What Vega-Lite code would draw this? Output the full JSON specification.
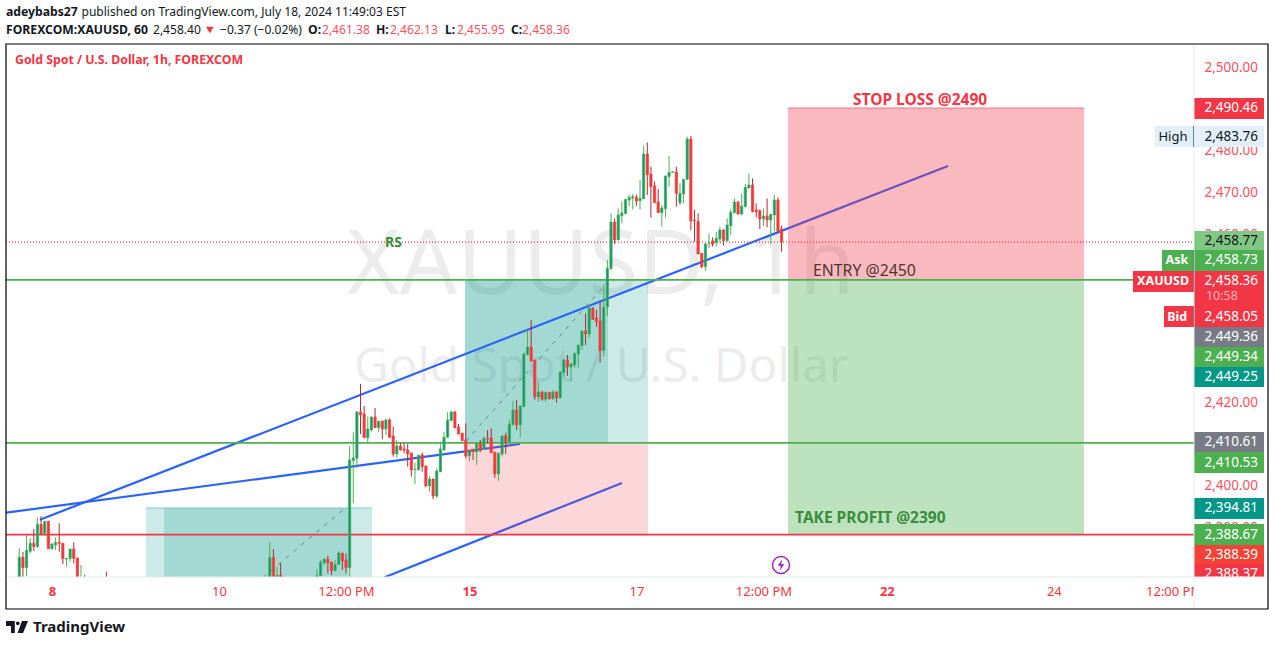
{"$schema":"https://vega.github.io/schema/vega-lite/v6.json","width":1188,"height":533,"autosize":{"type":"none"},"padding":{"left":6,"top":44,"right":81,"bottom":69},"background":"#ffffff","config":{"view":{"stroke":null},"font":"Noto Sans"},
"encoding":{"x":{"field":"x","type":"quantitative","scale":{"domain":[-3.664,323.61],"padding":0},"axis":{"orient":"bottom","values":[9,55,90,124,170,205,239,285,318],"labelExpr":"datum.value==9?'8':datum.value==55?'10':datum.value==90||datum.value==205||datum.value==318?'12:00 PM':datum.value==124?'15':datum.value==170?'17':datum.value==239?'22':'24'","grid":false,"ticks":false,"domain":false,"title":null,"labelColor":"#f23645","labelFont":"Noto Sans","labelFontSize":13,"labelPadding":8,"labelOverlap":false,"labelBound":false,"labelFlush":false,"labelFontWeight":{"condition":{"test":"datum.value==9||datum.value==124||datum.value==239","value":"bold"},"value":"normal"}}},"y":{"field":"y","type":"quantitative","scale":{"domain":[2378.28,2505.49]},"axis":{"orient":"right","values":[2500,2480,2470,2460,2420,2400,2390],"format":",.2f","grid":false,"ticks":false,"domain":false,"title":null,"labelColor":"#f7525f","labelFont":"Noto Sans","labelFontSize":13.5,"labelPadding":10,"labelOverlap":false,"labelBound":false}}},
"layer":[
{"data":{"values":[{"x":90.27,"y":2452.27,"t":"XAUUSD, 1h"}]},"mark":{"type":"text","align":"left","baseline":"middle","fontSize":90,"font":"Noto Sans","color":"#000000","opacity":0.07,"clip":true},"encoding":{"text":{"field":"t","type":"nominal"}}},
{"data":{"values":[{"x":92.2,"y":2428.16,"t":"Gold Spot / U.S. Dollar"}]},"mark":{"type":"text","align":"left","baseline":"middle","fontSize":47.7,"font":"Noto Sans","color":"#000000","opacity":0.07,"clip":true},"encoding":{"text":{"field":"t","type":"nominal"}}},
{"data":{"values":[{"x":34.9,"x2":97.17,"y":2394.75,"y2":2370},{"x":122.78,"x2":173.2,"y":2449.2,"y2":2410.3},{"x":39.86,"x2":90.55,"y":2394.75,"y2":2370},{"x":122.78,"x2":162.18,"y":2449.2,"y2":2410.3}]},"mark":{"type":"rect","fill":"#009688","opacity":0.2,"clip":true},"encoding":{"x2":{"field":"x2"},"y2":{"field":"y2"}}},
{"data":{"values":[{"x":34.9,"x2":97.17,"y":2394.75}]},"mark":{"type":"rule","stroke":"#80cbc4","strokeWidth":1,"clip":true},"encoding":{"x2":{"field":"x2"}}},
{"data":{"values":[{"x":5.7,"y":2391.96,"x2":255.84,"y2":2476.37},{"x":-3.66,"y":2393.63,"x2":137.93,"y2":2410.03},{"x":100.47,"y":2378.16,"x2":166.03,"y2":2400.72}]},"mark":{"type":"rule","stroke":"#2962ff","strokeWidth":2.2,"clip":true},"encoding":{"x2":{"field":"x2"},"y2":{"field":"y2"}}},
{"data":{"values":[{"x":122.78,"x2":173.2,"y":2410.3,"y2":2388.39}]},"mark":{"type":"rect","fill":"#f23645","opacity":0.2,"clip":true},"encoding":{"x2":{"field":"x2"},"y2":{"field":"y2"}}},
{"data":{"values":[{"x":211.76,"x2":293.31,"y":2490.22,"y2":2449.2}]},"mark":{"type":"rect","fill":"#f23645","opacity":0.35,"clip":true},"encoding":{"x2":{"field":"x2"},"y2":{"field":"y2"}}},
{"data":{"values":[{"x":211.76,"x2":293.31,"y":2490.22}]},"mark":{"type":"rule","stroke":"#f23645","strokeOpacity":0.6,"strokeWidth":1,"clip":true},"encoding":{"x2":{"field":"x2"}}},
{"data":{"values":[{"x":211.76,"x2":293.31,"y":2449.2,"y2":2388.39}]},"mark":{"type":"rect","fill":"#4caf50","opacity":0.37,"clip":true},"encoding":{"x2":{"field":"x2"},"y2":{"field":"y2"}}},
{"data":{"values":[{"x":-3.664,"x2":323.61,"y":2458.2}]},"mark":{"type":"rule","stroke":"#f23645","strokeWidth":1.3,"strokeDash":[1,2]},"encoding":{"x2":{"field":"x2"}}},
{"data":{"values":[{"x":-3.664,"x2":323.61,"y":2449.2},{"x":-3.664,"x2":323.61,"y":2410.3}]},"mark":{"type":"rule","stroke":"#4caf50","strokeWidth":1.6},"encoding":{"x2":{"field":"x2"}}},
{"data":{"values":[{"x":-3.664,"x2":323.61,"y":2388.39}]},"mark":{"type":"rule","stroke":"#f23645","strokeWidth":1.6},"encoding":{"x2":{"field":"x2"}}},
{"data":{"name":"bars","values":[
{"x":0,"o":2377,"h":2385.13,"l":2376,"c":2382.98},{"x":1,"o":2382.98,"h":2384.25,"l":2377,"c":2380.51},{"x":2,"o":2380.51,"h":2388.31,"l":2378.52,"c":2384.65},{"x":3,"o":2384.41,"h":2387.51,"l":2383.93,"c":2386.32},{"x":4,"o":2386.32,"h":2389.74,"l":2384.49,"c":2385.52},{"x":5,"o":2385.52,"h":2392.53,"l":2385.29,"c":2390.85},{"x":6,"o":2390.85,"h":2392.84,"l":2388.31,"c":2388.47},{"x":7,"o":2388.71,"h":2391.57,"l":2388.15,"c":2391.57},{"x":8,"o":2391.57,"h":2391.57,"l":2385.05,"c":2385.05},{"x":9,"o":2385.05,"h":2386.32,"l":2384.73,"c":2386.16},{"x":10,"o":2385.92,"h":2387.75,"l":2384.73,"c":2386.56},{"x":11,"o":2386.56,"h":2391.09,"l":2384.33,"c":2386.32},{"x":12,"o":2386.32,"h":2386.32,"l":2381.39,"c":2382.66},{"x":13,"o":2382.58,"h":2382.74,"l":2380.75,"c":2382.74},{"x":14,"o":2382.74,"h":2384.97,"l":2381.95,"c":2384.97},{"x":15,"o":2384.97,"h":2386.56,"l":2381.55,"c":2382.74},{"x":16,"o":2382.82,"h":2382.82,"l":2376,"c":2377},{"x":17,"o":2377,"h":2381.15,"l":2376,"c":2377.5},{"x":18,"o":2377,"h":2378.76,"l":2375,"c":2376},{"x":24,"o":2377,"h":2379.56,"l":2375,"c":2376},
{"x":68,"o":2377,"h":2378.36,"l":2376,"c":2377.5},{"x":69,"o":2377,"h":2386.56,"l":2376,"c":2382.98},{"x":70,"o":2382.98,"h":2384.97,"l":2376,"c":2377},{"x":71,"o":2377,"h":2380.75,"l":2376,"c":2378.68},{"x":72,"o":2378.68,"h":2381.55,"l":2376,"c":2377},{"x":73,"o":2377.5,"h":2378.36,"l":2376,"c":2376.5},
{"x":82,"o":2377,"h":2380.12,"l":2376,"c":2378.6},{"x":83,"o":2378.6,"h":2382.34,"l":2378.36,"c":2381.79},{"x":84,"o":2381.63,"h":2382.9,"l":2381.15,"c":2382.5},{"x":85,"o":2382.5,"h":2383.3,"l":2379.16,"c":2381.71},{"x":86,"o":2381.87,"h":2381.87,"l":2378.76,"c":2379.8},{"x":87,"o":2379.8,"h":2382.34,"l":2379.56,"c":2381.31},{"x":88,"o":2381.31,"h":2384.49,"l":2381.31,"c":2384.01},{"x":89,"o":2384.01,"h":2384.01,"l":2379.96,"c":2382.1},{"x":90,"o":2382.34,"h":2383.93,"l":2379.16,"c":2380.51},
{"x":91,"o":2380.51,"h":2409.55,"l":2378.36,"c":2406.21},{"x":92,"o":2406.05,"h":2412.82,"l":2395.87,"c":2406.69},{"x":93,"o":2406.61,"h":2417.83,"l":2404.22,"c":2417.67},{"x":94,"o":2417.67,"h":2424.35,"l":2412.42,"c":2416.95},{"x":95,"o":2417.19,"h":2419.1,"l":2411.54,"c":2411.54},{"x":96,"o":2411.54,"h":2416.55,"l":2410.43,"c":2413.61},{"x":97,"o":2413.37,"h":2416.55,"l":2412.97,"c":2416.47},{"x":98,"o":2416.47,"h":2418.62,"l":2413.93,"c":2413.93},{"x":99,"o":2413.93,"h":2415.6,"l":2412.97,"c":2415.44},{"x":100,"o":2415.52,"h":2415.52,"l":2411.22,"c":2413.61},{"x":101,"o":2413.61,"h":2416.08,"l":2412.18,"c":2415.76},{"x":102,"o":2415.76,"h":2416.16,"l":2411.62,"c":2411.62},{"x":103,"o":2411.94,"h":2414.17,"l":2407.01,"c":2407.64},{"x":104,"o":2407.64,"h":2410.98,"l":2406.77,"c":2409.55},{"x":105,"o":2409.55,"h":2410.19,"l":2408.44,"c":2408.6},{"x":106,"o":2408.84,"h":2410.19,"l":2407.8,"c":2408.6},{"x":107,"o":2408.6,"h":2410.03,"l":2404.62,"c":2407.64},{"x":108,"o":2407.88,"h":2407.88,"l":2402.24,"c":2403.83},{"x":109,"o":2403.91,"h":2405.58,"l":2400.41,"c":2403.99},{"x":110,"o":2403.83,"h":2407.33,"l":2403.83,"c":2407.33},{"x":111,"o":2407.41,"h":2407.96,"l":2403.43,"c":2404.62},{"x":112,"o":2404.78,"h":2404.78,"l":2399.69,"c":2400.01},{"x":113,"o":2400.01,"h":2402.39,"l":2398.66,"c":2401.68},{"x":114,"o":2401.68,"h":2401.68,"l":2396.83,"c":2397.62},{"x":115,"o":2397.62,"h":2404.22,"l":2397.07,"c":2403.59},{"x":116,"o":2403.43,"h":2410.59,"l":2403.27,"c":2408.84},{"x":117,"o":2408.6,"h":2412.97,"l":2408.44,"c":2411.62},{"x":118,"o":2411.62,"h":2417.59,"l":2411.46,"c":2415.76},{"x":119,"o":2415.6,"h":2417.99,"l":2415.44,"c":2417.67},{"x":120,"o":2417.67,"h":2417.83,"l":2413.85,"c":2413.85},{"x":121,"o":2414.09,"h":2414.8,"l":2412.42,"c":2412.42},{"x":122,"o":2412.58,"h":2412.74,"l":2410.67,"c":2410.83},{"x":123,"o":2410.98,"h":2414.96,"l":2406.61,"c":2407.17},{"x":124,"o":2407.17,"h":2408.6,"l":2405.89,"c":2408.52},{"x":125,"o":2408.76,"h":2408.76,"l":2406.21,"c":2408.28},{"x":126,"o":2408.12,"h":2410.19,"l":2405.02,"c":2410.11},{"x":127,"o":2410.19,"h":2410.98,"l":2408.12,"c":2408.6},{"x":128,"o":2408.76,"h":2411.94,"l":2408.6,"c":2411.38},{"x":129,"o":2411.46,"h":2413.37,"l":2410.19,"c":2411.22},{"x":130,"o":2411.46,"h":2413.77,"l":2407.96,"c":2407.96},{"x":131,"o":2408.04,"h":2408.04,"l":2401.92,"c":2402.87},{"x":132,"o":2402.87,"h":2407.88,"l":2401.2,"c":2407.88},{"x":133,"o":2407.64,"h":2412.1,"l":2407.01,"c":2411.94},{"x":134,"o":2411.94,"h":2412.74,"l":2407.64,"c":2410.51},{"x":135,"o":2410.51,"h":2415.92,"l":2410.51,"c":2414.8},{"x":136,"o":2414.64,"h":2420.29,"l":2414.49,"c":2418.15},{"x":137,"o":2418.15,"h":2420.53,"l":2413.37,"c":2414.57},{"x":138,"o":2414.64,"h":2419.26,"l":2411.54,"c":2419.1},{"x":139,"o":2418.94,"h":2431.83,"l":2418.78,"c":2431.51},{"x":140,"o":2431.35,"h":2437.24,"l":2431.19,"c":2433.18},{"x":141,"o":2433.18,"h":2439.62,"l":2429.68,"c":2429.84},{"x":142,"o":2430.08,"h":2430.08,"l":2420.53,"c":2421.25},{"x":143,"o":2421.25,"h":2424.83,"l":2420.05,"c":2422.44},{"x":144,"o":2422.44,"h":2422.6,"l":2420.37,"c":2420.69},{"x":145,"o":2420.69,"h":2422.52,"l":2420.13,"c":2422.36},{"x":146,"o":2422.36,"h":2422.36,"l":2420.77,"c":2420.77},{"x":147,"o":2420.77,"h":2422.92,"l":2420.69,"c":2422.44},{"x":148,"o":2422.44,"h":2422.6,"l":2419.9,"c":2421.01},{"x":149,"o":2421.01,"h":2427.37,"l":2421.01,"c":2427.21},{"x":150,"o":2427.06,"h":2430.24,"l":2426.1,"c":2430.08},{"x":151,"o":2430.08,"h":2431.27,"l":2426.26,"c":2428.41},{"x":152,"o":2428.41,"h":2429.28,"l":2425.07,"c":2429.12},{"x":153,"o":2428.88,"h":2431.83,"l":2428.25,"c":2431.67},{"x":154,"o":2431.51,"h":2433.66,"l":2428.25,"c":2433.66},{"x":155,"o":2433.5,"h":2437,"l":2432.46,"c":2437},{"x":156,"o":2437,"h":2441.21,"l":2433.66,"c":2436.28},{"x":157,"o":2436.28,"h":2443.2,"l":2435.25,"c":2442.49},{"x":158,"o":2442.49,"h":2442.65,"l":2439.62,"c":2439.78},{"x":159,"o":2440.1,"h":2442.01,"l":2438.03,"c":2439.23},{"x":160,"o":2439.39,"h":2444,"l":2429.44,"c":2432.31},{"x":161,"o":2432.31,"h":2447.98,"l":2430.87,"c":2442.65},
{"x":162,"o":2442.72,"h":2453.94,"l":2440.58,"c":2451.95},{"x":163,"o":2451.95,"h":2465.08,"l":2451.55,"c":2463.01},{"x":164,"o":2463.01,"h":2463.88,"l":2457.76,"c":2458.71},{"x":165,"o":2458.71,"h":2466.27,"l":2458.71,"c":2464.68},{"x":166,"o":2464.52,"h":2467.86,"l":2462.69,"c":2465.16},{"x":167,"o":2465,"h":2468.42,"l":2464.92,"c":2468.42},{"x":168,"o":2468.26,"h":2469.53,"l":2466.83,"c":2468.89},{"x":169,"o":2468.74,"h":2469.69,"l":2466.03,"c":2469.05},{"x":170,"o":2468.89,"h":2469.53,"l":2466.83,"c":2468.02},{"x":171,"o":2468.1,"h":2473.03,"l":2466.03,"c":2468.66},{"x":172,"o":2468.58,"h":2481.15,"l":2468.42,"c":2479.24},{"x":173,"o":2479.24,"h":2482.02,"l":2469.45,"c":2474.3},{"x":174,"o":2474.46,"h":2476.21,"l":2464.04,"c":2471.44},{"x":175,"o":2471.6,"h":2472.63,"l":2467.62,"c":2467.62},{"x":176,"o":2467.78,"h":2470.88,"l":2465.24,"c":2465.24},{"x":177,"o":2465.24,"h":2467.06,"l":2461.89,"c":2466.35},{"x":178,"o":2466.19,"h":2474.06,"l":2464.12,"c":2473.99},{"x":179,"o":2473.83,"h":2478.76,"l":2471.44,"c":2474.86},{"x":180,"o":2474.86,"h":2475.02,"l":2474.86,"c":2475.02},{"x":181,"o":2474.94,"h":2476.21,"l":2466.67,"c":2469.85},{"x":182,"o":2467.62,"h":2472.24,"l":2467.06,"c":2469.85},{"x":183,"o":2469.69,"h":2473.19,"l":2467.46,"c":2473.19},{"x":184,"o":2473.19,"h":2483.37,"l":2473.03,"c":2482.82},{"x":185,"o":2482.82,"h":2483.53,"l":2461.1,"c":2463.25},{"x":186,"o":2463.48,"h":2465.87,"l":2458.31,"c":2463.33},{"x":187,"o":2463.17,"h":2465.08,"l":2455.37,"c":2455.37},{"x":188,"o":2455.53,"h":2455.53,"l":2451.95,"c":2452.35},{"x":189,"o":2452.35,"h":2457.92,"l":2451.39,"c":2457.76},{"x":190,"o":2457.92,"h":2460.3,"l":2456.72,"c":2458},{"x":191,"o":2458.47,"h":2459.35,"l":2457.12,"c":2457.68},{"x":192,"o":2458.15,"h":2460.7,"l":2457.12,"c":2459.11},{"x":193,"o":2458.95,"h":2461.89,"l":2458.15,"c":2461.1},{"x":194,"o":2461.1,"h":2461.26,"l":2457.44,"c":2458.55},{"x":195,"o":2458.55,"h":2463.88,"l":2458.31,"c":2462.29},{"x":196,"o":2462.13,"h":2466.03,"l":2459.9,"c":2465.31},{"x":197,"o":2465.24,"h":2468.66,"l":2465.08,"c":2467.78},{"x":198,"o":2467.78,"h":2468.02,"l":2464.76,"c":2464.92},{"x":199,"o":2464.92,"h":2469.69,"l":2464.6,"c":2466.83},{"x":200,"o":2466.67,"h":2472.08,"l":2466.51,"c":2471.28},{"x":201,"o":2471.12,"h":2474.62,"l":2471.04,"c":2471.84},{"x":202,"o":2471.84,"h":2473.43,"l":2465.31,"c":2465.55},{"x":203,"o":2465.87,"h":2467.46,"l":2464.12,"c":2465.47},{"x":204,"o":2465.71,"h":2466.03,"l":2461.34,"c":2463.72},{"x":205,"o":2463.72,"h":2466.27,"l":2462.05,"c":2464.44},{"x":206,"o":2464.44,"h":2468.66,"l":2461.74,"c":2463.48},{"x":207,"o":2463.48,"h":2464.84,"l":2457.68,"c":2464.84},{"x":208,"o":2464.68,"h":2469.53,"l":2460.86,"c":2468.26},{"x":209,"o":2468.26,"h":2468.89,"l":2460.7,"c":2460.86},{"x":210,"o":2461.38,"h":2462.13,"l":2455.95,"c":2458.36}
]},"mark":{"type":"rule","strokeWidth":1,"clip":true},"encoding":{"y":{"field":"l","type":"quantitative","scale":{"domain":[2378.28,2505.49]}},"y2":{"field":"h"},"color":{"condition":{"test":"datum.c>=datum.o","value":"#4caf50"},"value":"#b22833"}}},
{"data":{"name":"bars"},"mark":{"type":"bar","size":2.2,"orient":"vertical","strokeWidth":0.8,"clip":true},"encoding":{"y":{"field":"o","type":"quantitative","scale":{"domain":[2378.28,2505.49]}},"y2":{"field":"c"},"fill":{"condition":{"test":"datum.c>=datum.o","value":"#089981"},"value":"#f23645"},"stroke":{"condition":{"test":"datum.c>=datum.o","value":"#4caf50"},"value":"#f44336"}}},
{"data":{"values":[{"x":67.13,"y":2378.16,"x2":90,"y2":2394.87},{"x":123.06,"y":2410.74,"x2":161.9,"y2":2448.45}]},"mark":{"type":"rule","stroke":"#787b86","strokeWidth":1,"strokeDash":[4,6],"clip":true},"encoding":{"x2":{"field":"x2"},"y2":{"field":"y2"}}},
{"data":{"values":[{"x":100.75,"y":2458,"t":"RS"}]},"mark":{"type":"text","align":"left","baseline":"middle","fontSize":14,"fontWeight":"bold","color":"#388e3c"},"encoding":{"text":{"field":"t","type":"nominal"}}},
{"data":{"values":[{"x":229.67,"y":2492.12,"t":"STOP LOSS @2490"}]},"mark":{"type":"text","align":"left","baseline":"middle","fontSize":15.5,"fontWeight":"bold","color":"#f23645"},"encoding":{"text":{"field":"t","type":"nominal"}}},
{"data":{"values":[{"x":218.66,"y":2451.2,"t":"ENTRY @2450"}]},"mark":{"type":"text","align":"left","baseline":"middle","fontSize":15.8,"color":"#4e342e"},"encoding":{"text":{"field":"t","type":"nominal"}}},
{"data":{"values":[{"x":213.7,"y":2392.4,"t":"TAKE PROFIT @2390"}]},"mark":{"type":"text","align":"left","baseline":"middle","fontSize":15.5,"fontWeight":"bold","color":"#388e3c"},"encoding":{"text":{"field":"t","type":"nominal"}}},
{"data":{"values":[{"x":209.84,"y":2381.15}]},"mark":{"type":"point","shape":"circle","size":290,"filled":false,"fill":"#ffffff","fillOpacity":1,"stroke":"#9c27b0","strokeWidth":1.5}},
{"data":{"values":[{"x":209.84,"y":2381.15}]},"mark":{"type":"point","shape":"M0.2,-1L-0.6,0.15H-0.05L-0.2,1L0.6,-0.15H0.05Z","size":121,"filled":true,"fill":"#9c27b0","opacity":1}},
{"data":{"values":[{"k":"red","x":323.61,"x2":342.9,"y":2492.6,"y2":2487.59},{"k":"hi","x":312.85,"x2":342.9,"y":2485.92,"y2":2480.91},{"k":"ltgreen","x":323.61,"x2":342.9,"y":2460.86,"y2":2456.33},{"k":"green","x":323.61,"x2":342.9,"y":2456.33,"y2":2451.31},{"k":"green","x":314.8,"x2":323.61,"y":2456.33,"y2":2451.31},{"k":"red","x":323.61,"x2":342.9,"y":2451.31,"y2":2442.96},{"k":"red","x":306.8,"x2":323.61,"y":2451.31,"y2":2446.3},{"k":"red","x":323.61,"x2":342.9,"y":2442.96,"y2":2437.95},{"k":"red","x":315.35,"x2":323.61,"y":2442.96,"y2":2437.95},{"k":"grey","x":323.61,"x2":342.9,"y":2437.95,"y2":2433.18},{"k":"green","x":323.61,"x2":342.9,"y":2433.18,"y2":2428.4},{"k":"teal","x":323.61,"x2":342.9,"y":2428.4,"y2":2423.63},{"k":"grey","x":323.61,"x2":342.9,"y":2412.89,"y2":2408.12},{"k":"green","x":323.61,"x2":342.9,"y":2408.12,"y2":2403.1},{"k":"teal","x":323.61,"x2":342.9,"y":2397.14,"y2":2392.13},{"k":"green","x":323.61,"x2":342.9,"y":2390.93,"y2":2385.92},{"k":"orange","x":323.61,"x2":342.9,"y":2385.92,"y2":2381.39},{"k":"red","x":323.61,"x2":342.9,"y":2381.39,"y2":2376}]},"mark":{"type":"rect"},"encoding":{"x2":{"field":"x2"},"y2":{"field":"y2"},"fill":{"field":"k","type":"nominal","legend":null,"scale":{"domain":["red","hi","ltgreen","green","grey","teal","orange"],"range":["#f23645","#e3effd","#81c784","#4caf50","#787b86","#009688","#f44336"]}}}},
{"data":{"values":[{"x":323.47,"y":2485.92,"y2":2480.91},{"x":323.47,"y":2456.33,"y2":2451.31},{"x":323.47,"y":2451.31,"y2":2446.3},{"x":323.47,"y":2442.96,"y2":2437.95}]},"mark":{"type":"rule","stroke":"#131722","strokeWidth":1},"encoding":{"y2":{"field":"y2"}}},
{"data":{"values":[{"x":341.25,"y":2490.1,"t":"2,490.46"},{"x":341.25,"y":2453.82,"t":"2,458.73"},{"x":341.25,"y":2448.93,"t":"2,458.36"},{"x":341.25,"y":2440.45,"t":"2,458.05"},{"x":341.25,"y":2435.56,"t":"2,449.36"},{"x":341.25,"y":2430.79,"t":"2,449.34"},{"x":341.25,"y":2426.02,"t":"2,449.25"},{"x":341.25,"y":2410.5,"t":"2,410.61"},{"x":341.25,"y":2405.6,"t":"2,410.53"},{"x":341.25,"y":2394.63,"t":"2,394.81"},{"x":341.25,"y":2388.4,"t":"2,388.67"},{"x":341.25,"y":2383.65,"t":"2,388.39"},{"x":341.25,"y":2379,"t":"2,388.37"}]},"mark":{"type":"text","align":"right","baseline":"middle","fontSize":13.5,"color":"#ffffff"},"encoding":{"text":{"field":"t","type":"nominal"}}},
{"data":{"values":[{"x":341.25,"y":2483.41,"t":"2,483.76"},{"x":341.25,"y":2458.59,"t":"2,458.77"}]},"mark":{"type":"text","align":"right","baseline":"middle","fontSize":13.5,"color":"#131722"},"encoding":{"text":{"field":"t","type":"nominal"}}},
{"data":{"values":[{"x":317.8,"y":2483.41,"t":"High"}]},"mark":{"type":"text","align":"center","baseline":"middle","fontSize":13,"color":"#131722"},"encoding":{"text":{"field":"t","type":"nominal"}}},
{"data":{"values":[{"x":331.3,"y":2445.35,"t":"10:58"}]},"mark":{"type":"text","align":"center","baseline":"middle","fontSize":12.5,"color":"#fbb4ba"},"encoding":{"text":{"field":"t","type":"nominal"}}},
{"data":{"values":[{"x":318.9,"y":2453.82,"t":"Ask"},{"x":315.1,"y":2448.93,"t":"XAUUSD"},{"x":319,"y":2440.45,"t":"Bid"}]},"mark":{"type":"text","align":"center","baseline":"middle","fontSize":12.5,"fontWeight":"bold","color":"#ffffff"},"encoding":{"text":{"field":"t","type":"nominal"}}},
{"data":{"values":[{"x":323.61,"x2":343.7,"y":2378.28,"y2":2371}]},"mark":{"type":"rect","fill":"#ffffff"},"encoding":{"x2":{"field":"x2"},"y2":{"field":"y2"}}},
{"data":{"values":[{"x":323.61,"y":2505.49,"y2":2370.64}]},"mark":{"type":"rule","stroke":"#e0ece9","strokeWidth":1},"encoding":{"y2":{"field":"y2"}}},
{"data":{"values":[{"x":-3.664,"x2":344,"y":2378.28}]},"mark":{"type":"rule","stroke":"#e0ece9","strokeWidth":1},"encoding":{"x2":{"field":"x2"}}},
{"data":{"values":[{"x":-3.664,"x2":344,"y":2505.49,"y2":2370.64}]},"mark":{"type":"rect","fillOpacity":0,"fill":"#ffffff","stroke":"#000000","strokeWidth":1.2},"encoding":{"x2":{"field":"x2"},"y2":{"field":"y2"}}},
{"data":{"values":[{"x":-1.18,"y":2501.67,"t":"Gold Spot / U.S. Dollar, 1h, FOREXCOM"}]},"mark":{"type":"text","align":"left","baseline":"middle","fontSize":12.3,"fontWeight":"bold","color":"#f23645"},"encoding":{"text":{"field":"t","type":"nominal"}}},
{"data":{"values":[{"x":-3.66,"y":2513.13,"t":"adeybabs27"},{"x":-3.66,"y":2508.83,"t":"FOREXCOM:XAUUSD, 60"},{"x":79.53,"y":2508.83,"t":"O:"},{"x":98.26,"y":2508.83,"t":"H:"},{"x":117.27,"y":2508.83,"t":"L:"},{"x":135.46,"y":2508.83,"t":"C:"}]},"mark":{"type":"text","align":"left","baseline":"middle","fontSize":12.2,"fontWeight":"bold","color":"#131722"},"encoding":{"text":{"field":"t","type":"nominal"}}},
{"data":{"values":[{"x":17.13,"y":2513.13,"t":"published on TradingView.com, July 18, 2024 11:49:03 EST"},{"x":36.83,"y":2508.83,"t":"2,458.40"},{"x":55.29,"y":2508.83,"t":"−0.37 (−0.02%)"}]},"mark":{"type":"text","align":"left","baseline":"middle","fontSize":12.05,"color":"#131722"},"encoding":{"text":{"field":"t","type":"nominal"}}},
{"data":{"values":[{"x":83.39,"y":2508.83,"t":"2,461.38"},{"x":102.12,"y":2508.83,"t":"2,462.13"},{"x":120.58,"y":2508.83,"t":"2,455.95"},{"x":138.49,"y":2508.83,"t":"2,458.36"}]},"mark":{"type":"text","align":"left","baseline":"middle","fontSize":12.05,"color":"#f7525f"},"encoding":{"text":{"field":"t","type":"nominal"}}},
{"data":{"values":[{"x":52.5,"y":2508.83}]},"mark":{"type":"point","shape":"triangle-down","size":60,"filled":true,"fill":"#f23645","opacity":1}},
{"data":{"values":[{"x":-0.63,"y":2366.35}]},"mark":{"type":"point","shape":"M-1,-0.55H-0.2V0.55H-0.55V-0.1H-1ZM0.24,-0.33A0.17,0.17 0 1 1 -0.1,-0.33A0.17,0.17 0 1 1 0.24,-0.33ZM0.45,-0.55H1L0.55,0.55H0.05Z","size":484,"filled":true,"fill":"#131722","opacity":1}},
{"data":{"values":[{"x":3.77,"y":2366.35,"t":"TradingView"}]},"mark":{"type":"text","align":"left","baseline":"middle","fontSize":15,"fontWeight":"bold","color":"#131722"},"encoding":{"text":{"field":"t","type":"nominal"}}}
]}
